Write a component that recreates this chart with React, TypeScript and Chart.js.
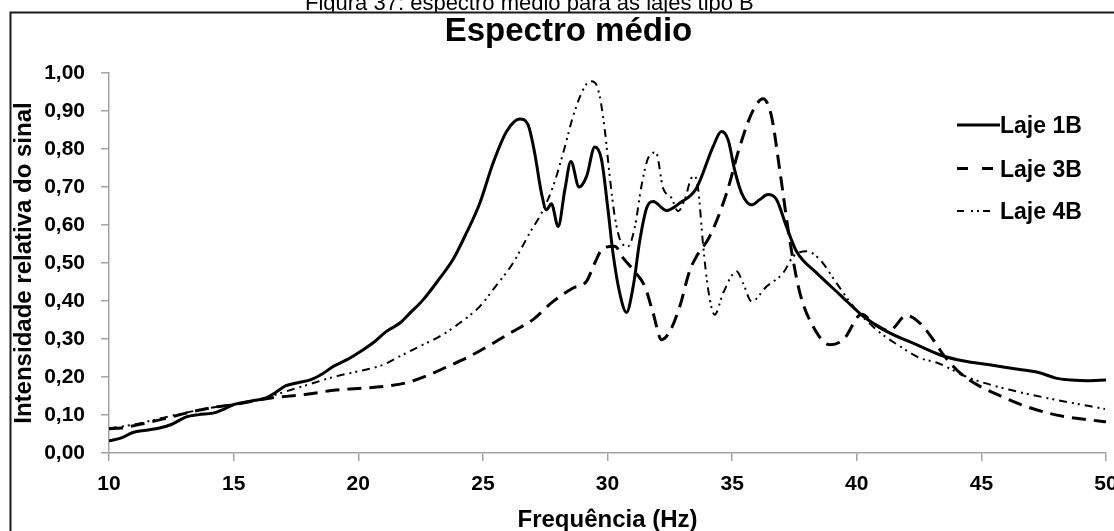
import React, { useEffect, useRef } from "react";
import { Chart, registerables } from "chart.js";

Chart.register(...registerables);

const W = 1114;
const H = 531;
const FONT = "'Liberation Sans', Arial, Helvetica, sans-serif";

const CAPTION = "Figura 37: espectro médio para as lajes tipo B";
const TITLE = "Espectro médio";
const X_TITLE = "Frequência (Hz)";
const Y_TITLE = "Intensidade relativa do sinal";
const SERIES_NAMES = ["Laje 1B", "Laje 3B", "Laje 4B"];

const X_MIN = 10;
const X_MAX = 50;
const X_STEP = 5;
const Y_MIN = 0;
const Y_MAX = 1;
const Y_STEP = 0.1;

// Laje 1B (solid)
const freq1B = [
  10.0, 10.5, 10.96, 11.5, 12.03, 12.5, 13.1, 13.6, 14.17, 14.6, 14.98, 15.4,
  15.8, 16.3, 16.7, 17.1, 17.65, 18.1, 18.6, 19.0, 19.53, 20.2, 20.6, 21.13,
  21.67, 22.1, 22.6, 23.27, 23.8, 24.34, 24.88, 25.41, 25.95, 26.48, 26.81,
  27.08, 27.35, 27.55, 27.75, 28.02, 28.29, 28.53, 28.86, 29.16, 29.49, 29.76,
  30.02, 30.22, 30.49, 30.76, 31.03, 31.3, 31.57, 31.83, 32.37, 32.9, 33.57,
  34.24, 34.57, 34.84, 35.1, 35.38, 35.78, 36.11, 36.44, 36.78, 37.18, 37.58,
  38.39, 39.32, 40.26, 41.2, 42.4, 43.44, 44.3, 45.33, 46.0, 46.6, 47.3, 47.99,
  48.6, 49.25, 50.0,
];
const laje1B = [
  0.032, 0.04, 0.054, 0.06, 0.066, 0.075, 0.095, 0.101, 0.105, 0.115, 0.127,
  0.133, 0.138, 0.145, 0.16, 0.177, 0.186, 0.193, 0.21, 0.228, 0.245, 0.272,
  0.29, 0.32, 0.342, 0.37, 0.403, 0.46, 0.509, 0.579, 0.658, 0.763, 0.846,
  0.879, 0.864, 0.789, 0.684, 0.64, 0.656, 0.596, 0.693, 0.767, 0.7, 0.728,
  0.805, 0.772, 0.64, 0.526, 0.421, 0.37, 0.438, 0.561, 0.645, 0.662, 0.638,
  0.658, 0.697, 0.807, 0.846, 0.824, 0.745, 0.684, 0.653, 0.667, 0.68, 0.667,
  0.596, 0.531, 0.474, 0.417, 0.36, 0.32, 0.285, 0.256, 0.242, 0.232, 0.225,
  0.219, 0.212, 0.197, 0.192, 0.19, 0.192,
];

// Laje 3B (dashed)
const freq3B = [
  10.0, 10.5, 11.36, 12.2, 13.1, 14.17, 14.98, 15.8, 16.5, 17.12, 18.0, 19.0,
  20.0, 21.0, 22.0, 23.0, 23.5, 24.34, 25.41, 26.21, 27.01, 27.82, 28.62, 29.16,
  29.49, 29.82, 30.29, 30.63, 31.03, 31.5, 31.83, 32.17, 32.5, 32.9, 33.3,
  33.57, 34.1, 34.78, 35.31, 35.85, 36.24, 36.58, 36.91, 37.31, 37.72, 38.25,
  38.92, 39.46, 40.2, 40.7, 41.3, 42.0, 42.53, 43.07, 43.47, 44.23, 45.8, 47.68,
  49.86, 50.0,
];
const laje3B = [
  0.064, 0.066, 0.077, 0.09, 0.105, 0.12, 0.127, 0.137, 0.145, 0.149, 0.155,
  0.165, 0.17, 0.175, 0.186, 0.21, 0.225, 0.25, 0.289, 0.32, 0.351, 0.399,
  0.434, 0.452, 0.5, 0.539, 0.544, 0.513, 0.482, 0.438, 0.368, 0.298, 0.32,
  0.386, 0.48, 0.517, 0.57, 0.684, 0.807, 0.903, 0.932, 0.886, 0.745, 0.561,
  0.421, 0.333, 0.285, 0.298, 0.365, 0.34, 0.322, 0.362, 0.342, 0.298, 0.259,
  0.206, 0.149, 0.105, 0.083, 0.082,
];

// Laje 4B (dash-dot-dot)
const freq4B = [
  10.0, 11.0, 12.0, 13.0, 14.0, 15.0, 16.0, 17.0, 18.0, 19.0, 20.0, 21.0, 21.53,
  22.47, 23.27, 24.07, 24.88, 25.41, 26.21, 26.88, 27.42, 27.82, 28.22, 28.62,
  29.02, 29.3, 29.49, 29.69, 29.89, 30.09, 30.29, 30.56, 30.83, 31.1, 31.36,
  31.63, 31.94, 32.23, 32.57, 32.83, 33.1, 33.37, 33.5, 33.64, 33.84, 34.04,
  34.3, 34.64, 35.18, 35.44, 35.78, 36.38, 37.05, 37.45, 37.99, 38.52, 39.19,
  39.86, 40.8, 41.73, 42.53, 43.2, 44.54, 46.1, 47.99, 49.96,
];
const laje4B = [
  0.065, 0.075, 0.09, 0.105, 0.118, 0.128, 0.14, 0.16, 0.18, 0.2, 0.215, 0.232,
  0.25, 0.281, 0.307, 0.342, 0.386, 0.43, 0.5, 0.579, 0.64, 0.702, 0.789, 0.886,
  0.956, 0.978, 0.975, 0.938, 0.851, 0.728, 0.623, 0.553, 0.544, 0.596, 0.702,
  0.776, 0.791, 0.697, 0.671, 0.636, 0.667, 0.724, 0.728, 0.693, 0.544, 0.43,
  0.364, 0.421, 0.478, 0.447, 0.399, 0.438, 0.474, 0.517, 0.531, 0.509, 0.447,
  0.386, 0.324, 0.281, 0.25, 0.238, 0.197, 0.167, 0.14, 0.116,
];

const AXIS_GRAY = "#a3a3a3";
const LINE_COLOR = "#000000";

const DASH_3B = [14, 8];
const DASH_4B = [8, 5, 2, 4, 2, 5];

const toPoints = (xs: number[], ys: number[]) =>
  xs.map((x, i) => ({ x, y: ys[i] }));

const fmtComma = (v: number) => v.toFixed(2).replace(".", ",");

// Caption, chart frame, title and the in-plot legend
const decorPlugin = {
  id: "decor",
  beforeDraw(chart: Chart) {
    const ctx = chart.ctx;
    ctx.save();
    ctx.fillStyle = "#ffffff";
    ctx.fillRect(0, 0, W, H);
    ctx.fillStyle = "#000000";
    ctx.font = `22px ${FONT}`;
    ctx.textAlign = "left";
    ctx.textBaseline = "alphabetic";
    ctx.fillText(CAPTION, 305, 10);
    ctx.fillStyle = "#ffffff";
    ctx.fillRect(10, 12, W + 20, H + 20);
    ctx.strokeStyle = "#1a1a1a";
    ctx.lineWidth = 2;
    ctx.strokeRect(10.5, 12.5, W + 20, H + 20);
    ctx.restore();
  },
  afterDraw(chart: Chart) {
    const ctx = chart.ctx;
    ctx.save();
    ctx.fillStyle = "#000000";
    ctx.font = `bold 33px ${FONT}`;
    ctx.textAlign = "center";
    ctx.textBaseline = "alphabetic";
    ctx.fillText(TITLE, 568.5, 41);

    const baselines = [133, 176.5, 219];
    const dashes: number[][] = [[], [11, 14], [7, 7, 2, 4, 2, 4]];
    const widths = [3, 3, 2];
    const ends = [1000, 994, 991];
    ctx.font = `bold 23px ${FONT}`;
    ctx.textAlign = "left";
    SERIES_NAMES.forEach((name, i) => {
      const yLine = baselines[i] - 8;
      ctx.beginPath();
      ctx.setLineDash(dashes[i]);
      ctx.lineWidth = widths[i];
      ctx.strokeStyle = LINE_COLOR;
      ctx.moveTo(957, yLine);
      ctx.lineTo(ends[i], yLine);
      ctx.stroke();
      ctx.setLineDash([]);
      ctx.fillText(name, 1000, baselines[i]);
    });
    ctx.restore();
  },
};

export default function App() {
  const canvasRef = useRef<HTMLCanvasElement | null>(null);

  useEffect(() => {
    const canvas = canvasRef.current;
    if (!canvas) return;
    const tickFont = { family: FONT, size: 21, weight: "bold" as const };

    const chart = new Chart(canvas, {
      type: "line",
      data: {
        datasets: [
          {
            label: SERIES_NAMES[0],
            data: toPoints(freq1B, laje1B),
            borderColor: LINE_COLOR,
            borderWidth: 3,
            cubicInterpolationMode: "monotone",
            pointRadius: 0,
            fill: false,
          },
          {
            label: SERIES_NAMES[1],
            data: toPoints(freq3B, laje3B),
            borderColor: LINE_COLOR,
            borderWidth: 3,
            borderDash: DASH_3B,
            cubicInterpolationMode: "monotone",
            pointRadius: 0,
            fill: false,
          },
          {
            label: SERIES_NAMES[2],
            data: toPoints(freq4B, laje4B),
            borderColor: LINE_COLOR,
            borderWidth: 2,
            borderDash: DASH_4B,
            cubicInterpolationMode: "monotone",
            pointRadius: 0,
            fill: false,
          },
        ],
      },
      options: {
        animation: false,
        responsive: false,
        devicePixelRatio: 1,
        layout: { padding: { top: 73, right: 8, left: 0, bottom: 0 } },
        plugins: {
          legend: { display: false },
          title: { display: false },
          tooltip: { enabled: false },
        },
        elements: { point: { radius: 0 } },
        scales: {
          x: {
            type: "linear",
            min: X_MIN,
            max: X_MAX,
            ticks: {
              stepSize: X_STEP,
              padding: 11,
              color: "#000",
              font: tickFont,
              maxRotation: 0,
              autoSkip: false,
            },
            grid: {
              drawOnChartArea: false,
              drawTicks: true,
              tickLength: 8,
              color: AXIS_GRAY,
              lineWidth: 1.5,
            },
            border: { color: AXIS_GRAY, width: 1.5 },
            title: {
              display: true,
              text: X_TITLE,
              color: "#000",
              font: { family: FONT, size: 24, weight: "bold", lineHeight: 0.8 },
              padding: { top: 0, bottom: 1 },
            },
            afterFit(scale: any) {
              scale.height = 78;
              scale.paddingLeft = 0;
              scale.paddingRight = 0;
            },
          },
          y: {
            type: "linear",
            min: Y_MIN,
            max: Y_MAX,
            ticks: {
              stepSize: Y_STEP,
              padding: 16,
              color: "#000",
              font: tickFont,
              callback: (v: any) => fmtComma(Number(v)),
            },
            grid: {
              drawOnChartArea: false,
              drawTicks: true,
              tickLength: 8,
              color: AXIS_GRAY,
              lineWidth: 1.5,
            },
            border: { color: AXIS_GRAY, width: 1.5 },
            title: {
              display: true,
              text: Y_TITLE,
              color: "#000",
              font: { family: FONT, size: 24, weight: "bold", lineHeight: 1.2 },
              padding: { top: 10, bottom: 0 },
            },
            afterFit(scale: any) {
              scale.width = 109;
            },
          },
        },
      },
      plugins: [decorPlugin],
    });

    return () => chart.destroy();
  }, []);

  return (
    <div
      style={{
        position: "absolute",
        left: 0,
        top: 0,
        width: W,
        height: H,
        overflow: "hidden",
        background: "#fff",
      }}
    >
      <canvas
        ref={canvasRef}
        width={W}
        height={H}
        style={{ display: "block", width: W, height: H }}
      />
    </div>
  );
}
